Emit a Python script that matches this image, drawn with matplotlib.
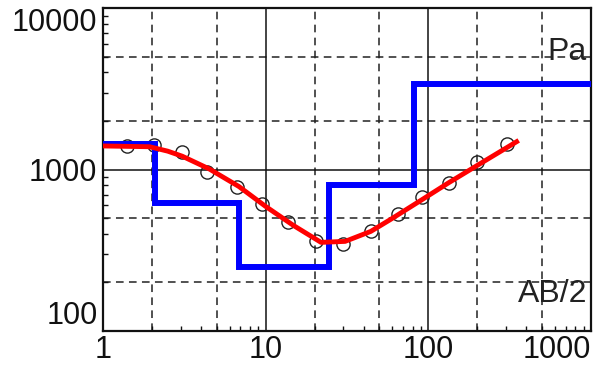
import matplotlib
matplotlib.use("Agg")
import matplotlib.pyplot as plt
from matplotlib.ticker import LogLocator, FixedLocator, FixedFormatter, NullFormatter

plt.rcParams['font.family'] = ['Liberation Sans', 'DejaVu Sans']

# field data (AB/2 vs apparent resistivity), open circles
ab2_obs = [1.4, 2.07, 3.07, 4.37, 6.65, 9.45, 13.8, 20.5, 29.9, 44.3, 64.7, 91.9, 134, 199, 303]
rho_obs = [1390, 1420, 1290, 972, 785, 608, 471, 359, 344, 414, 527, 672, 831, 1120, 1430]

# fitted curve (red)
ab2_fit = [1.0, 1.93, 2.5, 3.07, 4.49, 6.85, 10.0, 14.8, 21.9, 30.8, 44.3, 58.6, 91.9, 134, 199, 349]
rho_fit = [1400, 1385, 1300, 1210, 1010, 785, 591, 451, 354, 359, 414, 491, 653, 831, 1058, 1488]

# layered model (blue steps): layer tops and resistivities
layer_top = [1.0, 2.1, 6.84, 24.6, 82, 1000]
layer_rho = [1430, 625, 249, 805, 3400, 3400]

dash_x = [2, 5, 20, 50, 200, 500]
dash_y = [200, 500, 2000, 5000]

fig = plt.figure(figsize=(5.96, 3.69), dpi=100)
ax = fig.add_axes([0.1728, 0.103, 0.8188, 0.875])
ax.set_xscale('log')
ax.set_yscale('log')
ax.set_xlim(1, 1000)
ax.set_ylim(100, 10000)

# grid: solid at decades, dashed at 2 and 5
ax.grid(which='major', color='#111111', lw=1.1, ls='-')
for v in dash_x:
    ax.axvline(v, color='#222222', lw=1.1, ls=(0, (5, 3.5)), zorder=1)
for v in dash_y:
    ax.axhline(v, color='#222222', lw=1.1, ls=(0, (5, 3.5)), zorder=1)

ax.plot(ab2_obs, rho_obs, 'o', mfc='none', mec='#222222', mew=1.0, ms=9.5, zorder=2)
ax.plot(layer_top, layer_rho, color='#0000ff', lw=4.3, drawstyle='steps-post',
        solid_joinstyle='miter', zorder=3)
ax.plot(ab2_fit, rho_fit, color='#ff0000', lw=3.5, zorder=4)

ax.xaxis.set_major_locator(FixedLocator([1, 10, 100, 1000]))
ax.xaxis.set_major_formatter(FixedFormatter(['1', '10', '100', '1000']))
ax.yaxis.set_major_locator(FixedLocator([100, 1000, 10000]))
ax.yaxis.set_major_formatter(FixedFormatter(['100', '1000', '10000']))
for a in (ax.xaxis, ax.yaxis):
    a.set_minor_locator(LogLocator(base=10, subs=(2, 3, 4, 5, 6, 7, 8, 9)))
    a.set_minor_formatter(NullFormatter())

ax.tick_params(which='both', direction='in', top=False, right=False, colors='#111111')
ax.tick_params(which='major', length=0, labelsize=22, pad=4)
ax.tick_params(which='minor', length=3.5, width=1.0)
ax.tick_params(axis='x', pad=3)

for s in ax.spines.values():
    s.set_linewidth(1.6)
    s.set_color('#111111')

fig.canvas.draw()
yl = ax.get_yticklabels()
yl[0].set_va('bottom')
yl[-1].set_va('top')
xl = ax.get_xticklabels()
xl[-1].set_ha('right')

ax.text(0.992, 0.839, 'Pa', transform=ax.transAxes, ha='right', va='baseline',
        fontsize=23, color='#222222')
ax.text(0.992, 0.09, 'AB/2', transform=ax.transAxes, ha='right', va='baseline',
        fontsize=23, color='#222222')

fig.savefig('out.png', dpi=100)
